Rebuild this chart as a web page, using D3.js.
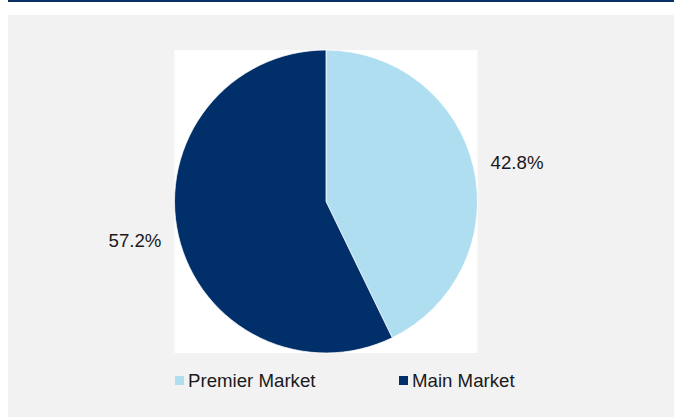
<!DOCTYPE html>
<html>
<head>
<meta charset="utf-8">
<script src="https://cdn.jsdelivr.net/npm/d3@7"></script>
<style>
 html, body { margin: 0; padding: 0; background: #fff; }
 svg { display: block; }
 text { font-family: "Liberation Sans", Arial, sans-serif; fill: #1a1a1a; }
</style>
</head>
<body>
<svg id="chart" width="674" height="417"></svg>
<script>
// chart data
const categories = ["Premier Market", "Main Market"];
const values = [42.8, 57.2];
const colors = ["#afdef0", "#002f6a"];

const svg = d3.select("#chart");
const W = 674, H = 417;

// top rule and grey panel
svg.append("rect").attr("x", 8).attr("y", 0).attr("width", W - 8).attr("height", 2).attr("fill", "#0b3068");
svg.append("rect").attr("x", 8).attr("y", 15).attr("width", W - 8).attr("height", H - 15).attr("fill", "#f2f2f2");

const cx = 326, cy = 201.5, r = 151.5;

// white plot area behind the pie
svg.append("rect")
  .attr("x", cx - r).attr("y", cy - r)
  .attr("width", 2 * r).attr("height", 2 * r)
  .attr("fill", "#fff");

const pie = d3.pie().sort(null).value(d => d)(values);
const arc = d3.arc().innerRadius(0).outerRadius(r);
const labelArc = d3.arc().innerRadius(195).outerRadius(195);
const nudge = 0.024; // labels sit a touch clockwise of the slice middle

const g = svg.append("g").attr("transform", `translate(${cx},${cy})`);

g.selectAll("path.slice")
  .data(pie)
  .join("path")
  .attr("class", "slice")
  .attr("d", arc)
  .attr("fill", (d, i) => colors[i])
  .attr("stroke", "#fff")
  .attr("stroke-width", 0.75);

g.selectAll("text.lbl")
  .data(pie)
  .join("text")
  .attr("class", "lbl")
  .attr("transform", d => `translate(${labelArc.centroid({startAngle: d.startAngle + nudge, endAngle: d.endAngle + nudge})})`)
  .attr("text-anchor", "middle")
  .attr("dy", "0.35em")
  .style("font-size", "18.67px")
  .text(d => d.data.toFixed(1) + "%");

// legend
const legendX = [175, 399];
const leg = svg.selectAll("g.leg")
  .data(categories)
  .join("g")
  .attr("class", "leg")
  .attr("transform", (d, i) => `translate(${legendX[i]},376)`);

leg.append("rect")
  .attr("width", 9).attr("height", 9)
  .attr("fill", (d, i) => colors[i]);

leg.append("text")
  .attr("x", 13).attr("y", 10.8)
  .style("font-size", "18.67px")
  .text(d => d);
</script>
</body>
</html>
